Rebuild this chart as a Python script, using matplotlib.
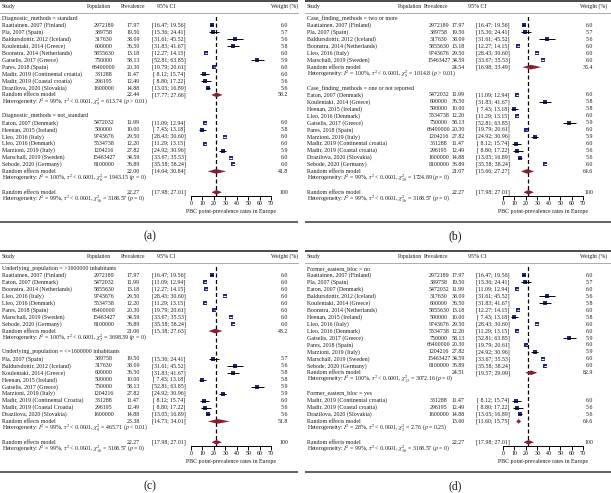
import matplotlib
matplotlib.use("Agg")
import matplotlib.pyplot as plt

plt.rcParams['font.family'] = ['Liberation Serif', 'DejaVu Serif']
plt.rcParams['mathtext.fontset'] = 'stix'

W, H = 611, 493

# ---------------- study-level data ----------------
STUDY = ["Raatiainen, 2007 (Finland)", "Pla, 2007 (Spain)", "Eaton, 2007 (Denmark)",
         "Baldursdottir, 2012 (Iceland)", "Koulentaki, 2014 (Greece)",
         "Boonstra, 2014 (Netherlands)", "Heenan, 2015 (Ireland)", "Lleo, 2016 (Italy)",
         "Lleo, 2016 (Denmark)", "Gatselis, 2017 (Greece)", "Pares, 2018 (Spain)",
         "Marzioni, 2019 (Italy)", "Marschall, 2019 (Sweden)",
         "Madir, 2019 (Continental croatia)", "Madir, 2019 (Coastal croatia)",
         "Drazilova, 2020 (Slovakia)", "Sebode, 2020 (Germany)"]
POPULATION = [2972189, 389758, 5472032, 317630, 600000, 5855630, 500000, 9743676,
              5534738, 750000, 66400000, 1204216, 15463427, 331288, 296195, 1600000, 8100000]
PREVALENCE = [17.97, 19.50, 11.99, 38.09, 36.50, 13.18, 10.00, 29.50, 12.20, 58.13,
              20.30, 27.82, 34.59, 11.47, 12.49, 14.88, 36.89]
CI_LOW = [16.47, 15.36, 11.09, 31.61, 31.83, 12.27, 7.43, 28.43, 11.29, 52.81,
          19.79, 24.92, 33.67, 8.12, 8.80, 13.05, 35.58]
CI_HIGH = [19.56, 24.41, 12.94, 45.52, 41.67, 14.15, 13.18, 30.60, 13.15, 63.85,
           20.61, 30.96, 35.53, 15.74, 17.22, 16.89, 38.24]
WEIGHT = [6.0, 5.7, 6.0, 5.6, 5.8, 6.0, 5.8, 6.0, 6.0, 5.9, 6.0, 5.9, 6.0, 6.0, 5.6, 5.6, 6.0]

# ---------------- subgroup memberships (indices into study lists) ----------------
GROUPS_A = [[0, 1, 3, 4, 5, 9, 10, 13, 14, 15], [2, 6, 7, 8, 11, 12, 16]]
GROUPS_B = [[0, 1, 3, 5, 7, 12], [2, 4, 6, 8, 9, 10, 11, 13, 14, 15, 16]]
GROUPS_C = [[0, 2, 5, 7, 8, 10, 12, 16], [1, 3, 4, 6, 9, 11, 13, 14, 15]]
GROUPS_D = [[0, 1, 2, 3, 4, 5, 6, 7, 8, 9, 10, 11, 12, 16], [13, 14, 15]]

LABELS_A = ["Diagnostic_methods = standard", "Diagnostic_methods = not_standard"]
LABELS_B = ["Case_finding_methods = two or more", "Case_finding_methods = one or not reported"]
LABELS_C = ["Underlying_population = >1600000 inhabitants",
            "Underlying_population = <=1600000 inhabitants"]
LABELS_D = ["Former_eastern_bloc = no", "Former_eastern_bloc = yes"]

# subgroup random-effects results
SUB_EST_A, SUB_LO_A, SUB_HI_A, SUB_W_A = [22.44, 22.00], [17.77, 14.64], [27.66, 30.84], [58.2, 41.8]
SUB_EST_B, SUB_LO_B, SUB_HI_B, SUB_W_B = [24.54, 21.07], [16.98, 15.66], [33.49, 27.27], [35.4, 64.6]
SUB_EST_C, SUB_LO_C, SUB_HI_C, SUB_W_C = [21.06, 23.38], [15.38, 14.73], [27.63, 34.01], [48.2, 51.8]
SUB_EST_D, SUB_LO_D, SUB_HI_D, SUB_W_D = [24.51, 13.60], [19.57, 11.60], [29.99, 15.75], [82.9, 64.6]

# heterogeneity statistics
I2_A, Q_A, DF_A, P_A = [99, 100], ["613.74", "1943.15"], [9, 6], ["> 0.01", "= 0"]
I2_B, Q_B, DF_B, P_B = [100, 99], ["1014.8", "1724.89"], [5, 10], ["> 0.01", "= 0"]
I2_C, Q_C, DF_C, P_C = [100, 99], ["3698.39", "465.71"], [7, 8], ["= 0", "< 0.01"]
I2_D, Q_D, DF_D, P_D = [100, 28], ["3072.16", "2.76"], [13, 2], ["= 0", "= 0.25"]

OVERALL_EST, OVERALL_LO, OVERALL_HI = 22.27, 17.98, 27.01
OVERALL_I2, OVERALL_Q, OVERALL_DF, OVERALL_P = 99, "3168.57", 16, "= 0"

NAME_OVERRIDE_C = {13: "Madir, 2019 (Continental Croatia)", 14: "Madir, 2019 (Coastal Croatia)"}

X_TICKS = [0, 10, 20, 30, 40, 50, 60, 70]
X_LABEL = "PBC point-prevalence rates in Europe"

# ---------------- layout ----------------
FS = 4.2
ROW0, DY = 18.5, 6.95
BOX_COL = "#1e2678"
DIA_COL = "#8a1c2e"
TXT_COL = "#1a1a1a"

COLS_AC = dict(h_pop=98.5, h_prev=133, h_ci=166, h_w=298, v_pop=104, v_prev=133,
               v_ci=169, v_w=288, f0=191, f70=271, rule_end=298)
COLS_BD = dict(h_pop=104.5, h_prev=131, h_ci=172, h_w=302, v_pop=134, v_prev=153,
               v_ci=188, v_w=288, f0=198, f70=278, rule_end=306)

PANELS = [
    dict(tag="(a)", ox=0, oy=0, pw=305, ph=245, cols=COLS_AC, groups=GROUPS_A, labels=LABELS_A,
         est=SUB_EST_A, lo=SUB_LO_A, hi=SUB_HI_A, w=SUB_W_A, i2=I2_A, q=Q_A, df=DF_A, p=P_A, names={}),
    dict(tag="(b)", ox=305, oy=0, pw=306, ph=245, cols=COLS_BD, groups=GROUPS_B, labels=LABELS_B,
         est=SUB_EST_B, lo=SUB_LO_B, hi=SUB_HI_B, w=SUB_W_B, i2=I2_B, q=Q_B, df=DF_B, p=P_B, names={}),
    dict(tag="(c)", ox=0, oy=250, pw=305, ph=243, cols=COLS_AC, groups=GROUPS_C, labels=LABELS_C,
         est=SUB_EST_C, lo=SUB_LO_C, hi=SUB_HI_C, w=SUB_W_C, i2=I2_C, q=Q_C, df=DF_C, p=P_C,
         names=NAME_OVERRIDE_C),
    dict(tag="(d)", ox=305, oy=250, pw=306, ph=243, cols=COLS_BD, groups=GROUPS_D, labels=LABELS_D,
         est=SUB_EST_D, lo=SUB_LO_D, hi=SUB_HI_D, w=SUB_W_D, i2=I2_D, q=Q_D, df=DF_D, p=P_D, names={}),
]


def het_text(i2, q, df, p):
    return (f"Heterogeneity: $I^2$ = {i2}%, $\\tau^2$ < 0.0001, "
            f"$\\chi^2_{{{df}}}$ = {q} ($p$ {p})")


def ci_text(lo, hi):
    return f"[{lo:5.2f}; {hi:5.2f}]"


def rect(x, y, w, h):
    return [x / W, 1 - (y + h) / H, w / W, h / H]


fig = plt.figure(figsize=(W / 100, H / 100), dpi=100)

for P in PANELS:
    ox, oy, pw, ph, c = P["ox"], P["oy"], P["pw"], P["ph"], P["cols"]
    # forest axes
    ftop, fbot = 14.0, 195.5
    fa = fig.add_axes(rect(ox + c["f0"], oy + ftop, c["f70"] - c["f0"], fbot - ftop))
    fa.set_xlim(0, 70)
    fa.set_ylim((fbot - ROW0) / DY, (ftop - ROW0) / DY)
    fa.patch.set_alpha(0)
    for s in ("top", "left", "right"):
        fa.spines[s].set_visible(False)
    fa.spines["bottom"].set_linewidth(0.7)
    fa.set_yticks([])
    fa.set_xticks(X_TICKS)
    fa.tick_params(axis="x", direction="out", length=2.6, width=0.7, pad=1.2,
                   labelsize=FS, colors="black")
    fa.set_xlabel(X_LABEL, fontsize=FS, labelpad=2.5, color=TXT_COL)
    fa.axvline(OVERALL_EST, color="black", lw=0.9, ls=(0, (3.2, 2.0)), zorder=1)
    px_per_unit = (c["f70"] - c["f0"]) / 70.0

    # text axes (panel-local pixel coordinates)
    ta = fig.add_axes(rect(ox, oy, pw, ph))
    ta.set_xlim(0, pw)
    ta.set_ylim(ph, 0)
    ta.axis("off")
    ta.patch.set_alpha(0)

    def txt(x, y, s, ha="left", size=FS, **kw):
        ta.text(x, y, s, ha=ha, va="center", fontsize=size, color=TXT_COL, **kw)

    # rules and headers
    ta.plot([0, c["rule_end"]], [1.2, 1.2], color="#2a2a2a", lw=1.2, clip_on=False, solid_capstyle="butt")
    ta.plot([0, c["rule_end"]], [12.6, 12.6], color="#8a8a8a", lw=0.5, clip_on=False)
    ta.plot([0, c["rule_end"]], [222, 222], color="#555555", lw=1.3, clip_on=False, solid_capstyle="butt")
    txt(2, 6.3, "Study")
    txt(c["h_pop"], 6.3, "Population", ha="center", size=4.0)
    txt(c["h_prev"], 6.3, "Prevalence", ha="center", size=4.0)
    txt(c["h_ci"], 6.3, "95% CI", ha="center")
    txt(c["h_w"], 6.3, "Weight (%)", ha="right")
    ta.text(150, 236.5, P["tag"], ha="center", va="center", fontsize=8.5, color=TXT_COL)

    def ry(i):
        return ROW0 + DY * i

    row = 0
    for g in range(2):
        txt(2, ry(row), P["labels"][g])
        row += 1
        for k in P["groups"][g]:
            name = P["names"].get(k, STUDY[k])
            y = ry(row)
            txt(2, y, name)
            txt(c["v_pop"], y, f"{POPULATION[k]}", ha="center")
            txt(c["v_prev"], y, f"{PREVALENCE[k]:.2f}", ha="center")
            txt(c["v_ci"], y, ci_text(CI_LOW[k], CI_HIGH[k]), ha="center")
            txt(c["v_w"], y, f"{WEIGHT[k]:.1f}", ha="right")
            side_px = 4.3 * (WEIGHT[k] / 6.0) ** 0.5
            side_pt = side_px * 72 / 100
            inside = (CI_HIGH[k] - CI_LOW[k]) * px_per_unit < 3.5
            fa.scatter([PREVALENCE[k]], [row], s=side_pt ** 2, marker="s", color=BOX_COL,
                       linewidths=0, zorder=3)
            fa.hlines(row, CI_LOW[k], CI_HIGH[k], color="white" if inside else "black",
                      lw=0.8 if inside else 0.7, zorder=4)
            row += 1
        # subgroup random-effects
        y = ry(row)
        txt(2, y, "Random effects model")
        txt(c["v_prev"], y, f"{P['est'][g]:.2f}", ha="center")
        txt(c["v_ci"], y, ci_text(P["lo"][g], P["hi"][g]), ha="center")
        txt(c["v_w"], y, f"{P['w'][g]:.1f}", ha="right")
        fa.fill([P["lo"][g], P["est"][g], P["hi"][g], P["est"][g]],
                [row, row - 0.33, row, row + 0.33], color=DIA_COL, lw=0, zorder=3)
        row += 1
        txt(2, ry(row), het_text(P["i2"][g], P["q"][g], P["df"][g], P["p"][g]))
        row += 2
    # overall
    y = ry(row)
    txt(2, y, "Random effects model")
    txt(c["v_prev"], y, f"{OVERALL_EST:.2f}", ha="center")
    txt(c["v_ci"], y, ci_text(OVERALL_LO, OVERALL_HI), ha="center")
    txt(c["v_w"], y, "100", ha="right")
    fa.fill([OVERALL_LO, OVERALL_EST, OVERALL_HI, OVERALL_EST],
            [row, row - 0.33, row, row + 0.33], color=DIA_COL, lw=0, zorder=3)
    row += 1
    txt(2, ry(row), het_text(OVERALL_I2, OVERALL_Q, OVERALL_DF, OVERALL_P))

fig.savefig("out.png", dpi=100)
